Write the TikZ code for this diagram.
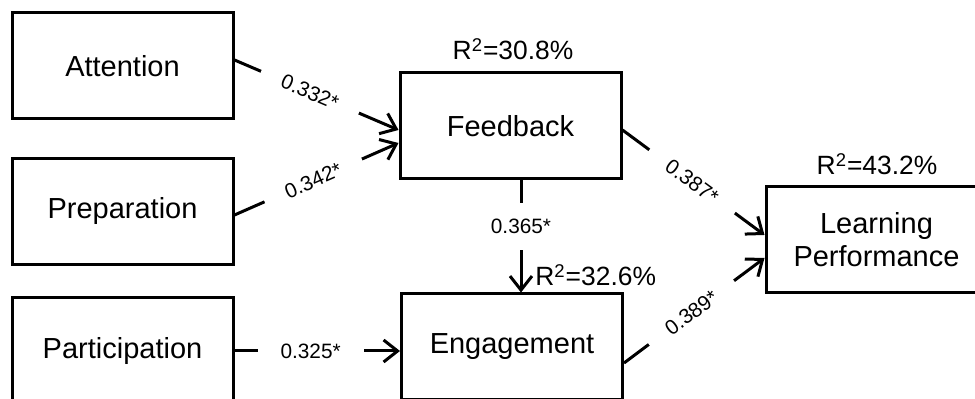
\documentclass[tikz,border=0pt]{standalone}
\usepackage{fontspec}
\setmainfont{Liberation Sans}
\usetikzlibrary{positioning,arrows.meta}

\begin{document}
\begin{tikzpicture}[x=0.5pt, y=-0.5pt,
    construct/.style={rectangle, draw, line width=1.5pt, minimum width=110.5pt, minimum height=53pt, inner sep=0pt, align=center, font=\fontsize{14.5}{16.5}\selectfont},
    rsq/.style={inner sep=0pt, font=\fontsize{13.2}{15}\selectfont},
    effect/.style={line width=1.5pt, -{Straight Barb[length=7pt, width=11pt]}},
    coef/.style={fill=white, inner xsep=11.5pt, inner ysep=8pt, font=\fontsize{10.4}{12}\selectfont}]
    \useasboundingbox (0,0) rectangle (975,399);
    \clip (0,0) rectangle (975,399);

    \node[construct] (att)  at (122.5,66)  {Attention};
    \node[construct] (prep) at (122.5,211.5) {Preparation};
    \node[construct] (part) at (122.5,351) {Participation};
    \node[construct] (fb)   at (510.5,126) {Feedback};
    \node[construct] (eng)  at (512,347)   {Engagement};
    \node[construct] (lp)   at (876.5,240) {Learning\\Performance};

    \node[rsq, anchor=base]      (fbr)  at (513,60)  {R\textsuperscript{2}=30.8\%};
    \node[rsq, anchor=base west] (engr) at (535,286) {R\textsuperscript{2}=32.6\%};
    \node[rsq, anchor=base]      (lpr)  at (877,175) {R\textsuperscript{2}=43.2\%};

    \draw[effect] ([yshift=3pt]att.east) -- node[coef, sloped, pos=0.46] {0.332*} ([yshift=-2pt]fb.west);
    \draw[effect] ([yshift=-1.75pt]prep.east) -- node[coef, sloped, pos=0.48] {0.342*} ([yshift=-8.5pt]fb.west);
    \draw[effect] (part.east) -- node[coef, pos=0.46] {0.325*} ([yshift=-2pt]eng.west);
    \draw[effect] ([xshift=5.25pt]fb.south) -- node[coef, pos=0.41] {0.365*} ([xshift=4.5pt]eng.north);
    \draw[effect] ([yshift=-2pt]fb.east) -- node[coef, sloped, pos=0.49] {0.387*} ([yshift=2.5pt]lp.west);
    \draw[effect] ([yshift=-8pt]eng.east) -- node[coef, sloped, pos=0.48] {0.389*} ([yshift=-9pt]lp.west);
\end{tikzpicture}
\end{document}
